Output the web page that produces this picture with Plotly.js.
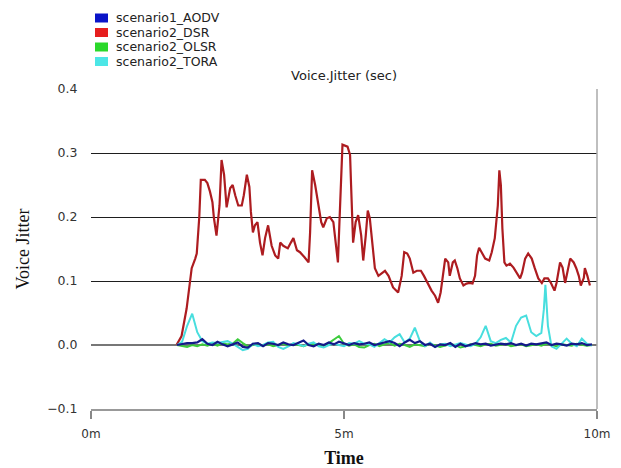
<!DOCTYPE html>
<html>
<head>
<meta charset="utf-8">
<script src="https://cdn.plot.ly/plotly-3.0.1.min.js"></script>
<style>
html,body{margin:0;padding:0;background:#fff;}
#chart{width:621px;height:468px;}
</style>
</head>
<body>
<div id="chart"></div>
<script>
// ---- data (time in minutes, jitter in seconds) ----
var seriesNames = ["scenario1_AODV", "scenario2_DSR", "scenario2_OLSR", "scenario2_TORA"];
var legendColors = ["#0a14c8", "#e61e1e", "#2ad82a", "#4ce6e6"];
var lineColors = ["#141a8a", "#ad1c20", "#3ccc3c", "#48dede"];

var xTickVals = [0, 5, 10];
var xTickText = ["0m", "5m", "10m"];
var yTickVals = [-0.1, 0.0, 0.1, 0.2, 0.3, 0.4];

var dsrTime = [1.69,1.79,1.89,1.96,1.99,2.06,2.09,2.14,2.17,2.25,2.30,2.35,2.40,2.43,2.48,2.54,2.58,2.63,2.68,2.75,2.80,2.85,2.91,2.98,3.02,3.08,3.13,3.16,3.20,3.24,3.29,3.34,3.39,3.44,3.50,3.57,3.64,3.70,3.74,3.80,3.89,3.95,4.00,4.07,4.13,4.22,4.30,4.33,4.37,4.43,4.48,4.55,4.59,4.66,4.72,4.79,4.82,4.88,4.91,4.94,4.97,5.07,5.12,5.14,5.16,5.18,5.23,5.28,5.34,5.38,5.43,5.47,5.51,5.56,5.61,5.68,5.75,5.81,5.88,5.97,6.07,6.14,6.19,6.25,6.30,6.37,6.44,6.52,6.58,6.65,6.73,6.80,6.86,6.91,6.97,7.00,7.06,7.09,7.15,7.19,7.24,7.29,7.36,7.42,7.48,7.54,7.59,7.63,7.67,7.72,7.79,7.87,7.92,7.98,8.04,8.07,8.10,8.13,8.17,8.21,8.28,8.35,8.41,8.48,8.52,8.58,8.64,8.71,8.77,8.84,8.91,8.96,9.03,9.09,9.16,9.20,9.27,9.32,9.37,9.43,9.47,9.54,9.59,9.64,9.68,9.74,9.76,9.81,9.86];
var dsrJitter = [0.000,0.014,0.057,0.100,0.120,0.135,0.143,0.200,0.258,0.258,0.253,0.240,0.223,0.198,0.171,0.218,0.289,0.266,0.215,0.245,0.250,0.234,0.218,0.218,0.234,0.266,0.247,0.208,0.176,0.187,0.192,0.160,0.140,0.167,0.187,0.155,0.140,0.135,0.160,0.155,0.151,0.160,0.167,0.148,0.145,0.137,0.129,0.176,0.273,0.250,0.223,0.192,0.184,0.198,0.200,0.192,0.171,0.129,0.192,0.266,0.313,0.310,0.297,0.250,0.198,0.160,0.192,0.203,0.171,0.132,0.171,0.210,0.198,0.160,0.120,0.108,0.113,0.116,0.108,0.090,0.082,0.108,0.145,0.143,0.135,0.113,0.116,0.116,0.108,0.097,0.085,0.077,0.066,0.082,0.120,0.135,0.129,0.108,0.129,0.132,0.120,0.104,0.093,0.096,0.097,0.096,0.108,0.140,0.152,0.145,0.135,0.132,0.145,0.167,0.218,0.273,0.250,0.182,0.129,0.124,0.127,0.121,0.113,0.104,0.113,0.135,0.143,0.135,0.120,0.104,0.097,0.104,0.104,0.097,0.085,0.097,0.129,0.121,0.097,0.120,0.135,0.129,0.120,0.108,0.093,0.105,0.120,0.108,0.093];

var lowTime = [1.7,1.8,1.9,2.0,2.1,2.2,2.3,2.4,2.5,2.6,2.7,2.8,2.9,3.0,3.1,3.2,3.3,3.4,3.5,3.6,3.7,3.8,3.9,4.0,4.1,4.2,4.3,4.4,4.5,4.6,4.7,4.8,4.9,5.0,5.1,5.2,5.3,5.4,5.5,5.6,5.7,5.8,5.9,6.0,6.1,6.2,6.3,6.4,6.5,6.6,6.7,6.8,6.9,7.0,7.1,7.2,7.3,7.4,7.5,7.6,7.7,7.8,7.9,8.0,8.1,8.2,8.3,8.4,8.5,8.6,8.7,8.8,8.9,9.0,9.1,9.2,9.3,9.4,9.5,9.6,9.7,9.8,9.9];
var aodvJitter = [0.000,0.002,0.003,0.003,0.004,0.009,0.002,0.000,0.005,0.001,-0.002,0.001,0.004,-0.003,-0.004,0.002,0.003,-0.002,0.003,0.002,0.000,0.004,0.001,0.000,0.003,0.007,0.000,-0.002,0.002,0.000,0.004,0.001,0.005,0.002,0.000,0.003,0.001,0.002,0.004,0.000,0.002,0.003,0.006,0.003,-0.002,0.004,0.008,0.003,0.006,0.000,0.002,-0.003,0.001,0.000,0.003,-0.003,0.002,-0.002,0.000,0.003,0.001,0.002,-0.001,0.000,0.002,0.001,0.003,0.000,0.002,-0.001,0.002,0.001,0.003,0.004,0.000,0.002,0.001,-0.001,0.002,0.001,0.003,0.000,0.001];
var olsrJitter = [0.000,-0.002,-0.003,0.000,-0.002,0.001,-0.001,0.002,-0.001,0.003,0.001,0.002,0.009,0.003,-0.002,0.000,0.002,-0.001,0.001,-0.002,0.000,0.002,-0.001,0.001,0.000,-0.002,0.001,0.002,0.000,-0.001,0.003,0.008,0.014,0.002,-0.001,0.001,-0.003,-0.004,0.000,0.002,-0.002,0.001,0.003,-0.001,0.002,0.000,-0.003,0.001,0.000,-0.002,0.002,0.000,-0.003,-0.001,0.001,0.000,-0.004,-0.002,0.001,0.000,-0.002,0.001,0.002,-0.001,0.000,0.002,-0.002,0.000,0.001,-0.002,0.000,0.001,-0.001,0.002,0.000,-0.002,0.001,0.000,-0.001,0.002,0.001,-0.001,0.000];
var toraTime = [1.7,1.8,1.9,2.0,2.1,2.2,2.3,2.4,2.5,2.6,2.7,2.8,2.9,3.0,3.1,3.2,3.3,3.4,3.5,3.6,3.7,3.8,3.9,4.0,4.1,4.2,4.3,4.4,4.5,4.6,4.7,4.8,4.9,5.0,5.1,5.2,5.3,5.4,5.5,5.6,5.7,5.8,5.9,6.0,6.1,6.2,6.3,6.4,6.5,6.6,6.7,6.8,6.9,7.0,7.1,7.2,7.3,7.4,7.5,7.6,7.7,7.8,7.9,8.0,8.1,8.2,8.3,8.4,8.5,8.6,8.7,8.8,8.9,8.95,8.98,9.03,9.1,9.2,9.3,9.4,9.5,9.6,9.7,9.8,9.9];
var toraJitter = [0.000,0.005,0.030,0.049,0.020,0.006,0.002,0.004,0.003,0.005,0.006,0.002,-0.003,-0.008,-0.006,0.002,-0.002,0.000,0.004,0.005,-0.003,-0.006,-0.002,0.003,0.001,-0.002,0.002,0.004,-0.002,-0.004,0.000,0.002,0.000,-0.002,0.003,0.002,0.006,0.002,0.001,-0.003,0.003,0.009,0.004,0.012,0.017,0.004,0.010,0.027,0.006,-0.002,0.004,-0.003,0.001,0.002,-0.002,0.000,0.003,0.001,-0.002,0.002,0.012,0.030,0.006,0.003,0.008,0.011,0.004,0.030,0.043,0.046,0.020,0.014,0.019,0.056,0.094,0.030,-0.002,-0.006,0.002,0.010,0.002,-0.002,0.010,0.002,-0.001];

// ---- traces ----
var traces = [
  {x: dsrTime, y: dsrJitter, mode: "lines", line: {color: lineColors[1], width: 2.2}, name: seriesNames[1], hoverinfo: "skip"},
  {x: lowTime, y: olsrJitter, mode: "lines", line: {color: lineColors[2], width: 2}, name: seriesNames[2], hoverinfo: "skip"},
  {x: toraTime, y: toraJitter, mode: "lines", line: {color: lineColors[3], width: 2}, name: seriesNames[3], hoverinfo: "skip"},
  {x: lowTime, y: aodvJitter, mode: "lines", line: {color: lineColors[0], width: 2.2}, name: seriesNames[0], hoverinfo: "skip"}
];

// ---- custom compact legend (swatches + labels) in paper coordinates ----
var plotL = 91, plotW = 506, plotB = 409, plotH = 320;
function px2x(p) { return (p - plotL) / plotW; }
function py2y(p) { return (plotB - p) / plotH; }
var legendRowY = [18, 32.5, 47, 61.5];
var shapes = [
  {type: "line", xref: "paper", yref: "paper", x0: 1, x1: 1, y0: 0, y1: 1, line: {color: "#aaa", width: 1.5}}
];
var annotations = [];
for (var i = 0; i < seriesNames.length; i++) {
  shapes.push({type: "rect", xref: "paper", yref: "paper",
    x0: px2x(95), x1: px2x(108), y0: py2y(legendRowY[i] + 4.5), y1: py2y(legendRowY[i] - 4.5),
    fillcolor: legendColors[i], line: {width: 0}});
  annotations.push({xref: "paper", yref: "paper", x: px2x(114), y: py2y(legendRowY[i]),
    xanchor: "left", yanchor: "middle", showarrow: false, text: seriesNames[i],
    font: {family: "DejaVu Sans", size: 12.5, color: "#222"}});
}

var layout = {
  width: 621, height: 468,
  margin: {l: 91, r: 24, t: 89, b: 59},
  paper_bgcolor: "#ffffff", plot_bgcolor: "#ffffff",
  font: {family: "DejaVu Sans", size: 12, color: "#333"},
  showlegend: false,
  title: {text: "Voice.Jitter (sec)", x: 0.5, xref: "paper", xanchor: "center",
          y: 1 - 75/468, yref: "container", yanchor: "middle",
          font: {family: "DejaVu Sans", size: 13, color: "#222"}},
  xaxis: {range: [0, 10], tickvals: xTickVals, ticktext: xTickText, ticks: "outside", ticklen: 8,
          tickwidth: 1.5, tickcolor: "#888", showgrid: false, zeroline: false,
          showline: true, linecolor: "#999", linewidth: 1.5, ticklabelstandoff: 5,
          tickfont: {family: "DejaVu Sans", size: 12, color: "#333"},
          title: {text: "Time", standoff: 14, font: {family: "Liberation Serif", size: 18, color: "#111", weight: "bold"}}},
  yaxis: {range: [-0.1, 0.4], tickvals: yTickVals, tickformat: ".1f", ticks: "outside", ticklen: 10,
          tickcolor: "rgba(0,0,0,0)", showgrid: false, showline: false,
          zeroline: true, zerolinecolor: "#777", zerolinewidth: 1.5,
          minor: {tickvals: [0.1, 0.2, 0.3], showgrid: true, gridcolor: "#1e1e1e", gridwidth: 1, ticks: ""},
          tickfont: {family: "DejaVu Sans", size: 12.5, color: "#333"},
          title: {text: "Voice Jitter", standoff: 12, font: {family: "Liberation Serif", size: 18, color: "#111"}}},
  shapes: shapes,
  annotations: annotations
};

Plotly.newPlot("chart", traces, layout, {displayModeBar: false, staticPlot: true});
</script>
</body>
</html>
